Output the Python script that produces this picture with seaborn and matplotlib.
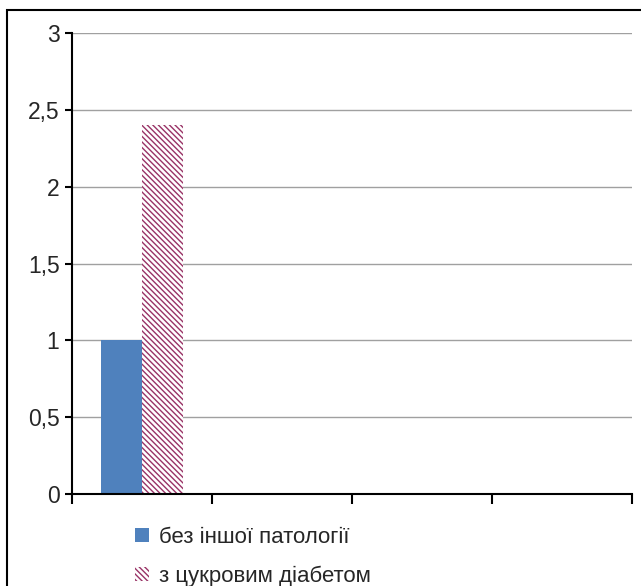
import pandas as pd
import numpy as np
import seaborn as sns
import matplotlib.pyplot as plt
from matplotlib.patches import Rectangle, Patch

categories = ['1', '2', '3', '4']
series_names = ['без іншої патології', 'з цукровим діабетом']
values_plain = [1.0, np.nan, np.nan, np.nan]
values_diabetes = [2.4, np.nan, np.nan, np.nan]
y_ticks = [0, 0.5, 1, 1.5, 2, 2.5, 3]
y_labels = ['0', '0,5', '1', '1,5', '2', '2,5', '3']

df = pd.DataFrame({
    'cat': categories * 2,
    'group': [series_names[0]] * 4 + [series_names[1]] * 4,
    'value': values_plain + values_diabetes,
})

sns.set_style('white')
plt.rcParams['font.family'] = ['Liberation Sans', 'DejaVu Sans']
plt.rcParams['hatch.linewidth'] = 1.0
plt.rcParams['hatch.color'] = '#993366'

fig = plt.figure(figsize=(6.41, 5.86), dpi=100)
ax = fig.add_axes([72/641, 1-494/586, 560/641, 461/586])

sns.barplot(data=df, x='cat', y='value', hue='group', order=categories,
            hue_order=series_names, palette=['#4F81BD', 'white'],
            width=0.58, ax=ax, legend=False, linewidth=0, saturation=1)

# second hue -> hatched bars
for bar in ax.containers[1]:
    bar.set_edgecolor('#993366')
    bar.set_linewidth(0.01)
    bar.set_hatch('\\' * 6)

ax.set_xlim(-0.5, 3.5)
ax.set_ylim(0, 3)
ax.set_yticks(y_ticks)
ax.set_yticklabels(y_labels, fontsize=16.5)
ax.set_xticks(np.arange(-0.5, 3.6, 1))
ax.set_xticklabels([])
ax.set_xlabel('')
ax.set_ylabel('')
ax.yaxis.grid(True, color='#a0a0a0', linewidth=1)
ax.set_axisbelow(True)
for s in ['top', 'right']:
    ax.spines[s].set_visible(False)
for s in ['left', 'bottom']:
    ax.spines[s].set_color('black')
    ax.spines[s].set_linewidth(1.5)
ax.tick_params(axis='y', direction='out', length=5, width=1.5, color='black', left=True, pad=4)
ax.tick_params(axis='x', direction='out', length=7, width=1.5, color='black', bottom=True)

handles = [Patch(facecolor='#4F81BD', edgecolor='none'),
           Patch(facecolor='white', edgecolor='#993366', hatch='\\' * 6, linewidth=0.01)]
fig.legend(handles, series_names, loc='upper left', bbox_to_anchor=(117/641, 1-509/586),
           frameon=False, fontsize=16, handlelength=0.65, handleheight=0.65,
           handletextpad=0.45, labelspacing=0.8, borderpad=0.3)

fig.patches.append(Rectangle((7/641, -0.1), 1.2, 1.1 - 10/586, transform=fig.transFigure,
                             fill=False, edgecolor='black', linewidth=1.5, clip_on=False))

fig.savefig('out.png', dpi=100)
